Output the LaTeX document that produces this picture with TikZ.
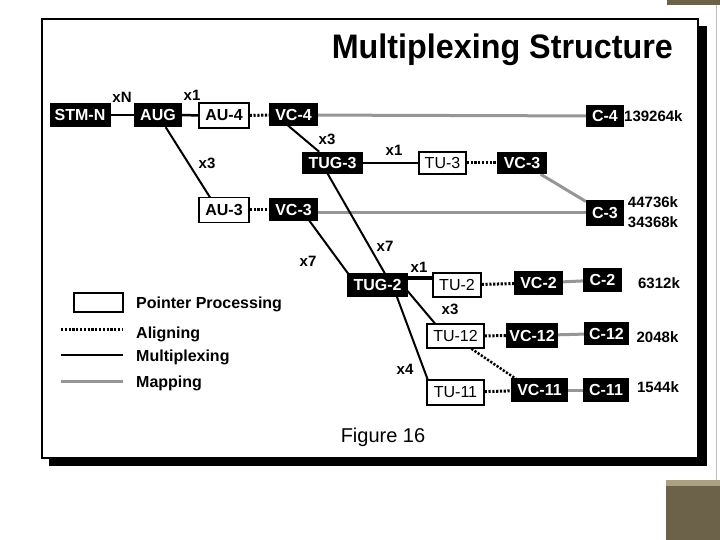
\documentclass[tikz,border=0pt]{standalone}
\usepackage{fontspec}
\setmainfont{Liberation Sans}
\newfontfamily\titlefont[FakeStretch=0.95]{Liberation Sans}
\usetikzlibrary{backgrounds}
\usepackage{xcolor}
\definecolor{mapgray}{RGB}{150,150,150}
\definecolor{olivedark}{RGB}{108,98,74}
\definecolor{olivelight}{RGB}{168,162,130}

\newcommand\boxfont{\bfseries\fontsize{16}{18}\selectfont}
\newcommand\lblfont{\bfseries\fontsize{15}{17}\selectfont}

\tikzset{
  blkbox/.style={fill=black, text=white, font=\boxfont, inner sep=0pt, minimum height=24pt},
  ptrbox/.style={draw=black, fill=white, line width=1.4pt, font=\boxfont, inner sep=0pt, minimum height=24pt},
  tubox/.style={ptrbox, font=\fontsize{16}{18}\selectfont},
  mult/.style={black, line width=2pt},
  aligning/.style={black, line width=3pt, dash pattern=on 2.2pt off 1.6pt},
  mapg/.style={mapgray, line width=3pt},
  lbl/.style={font=\lblfont, inner sep=0pt},
  rate/.style={font=\lblfont, inner sep=0pt},
  legtxt/.style={font=\bfseries\fontsize{16}{18}\selectfont, inner sep=0pt, anchor=west}
}

\begin{document}
\begin{tikzpicture}[x=1pt,y=-1pt]
    \useasboundingbox (0,0) rectangle (720,540);

    % --- Decor et cadre ---
    \begin{scope}[on background layer]
        \fill[olivedark] (667,0) rectangle (720,5);
        \fill[olivelight] (666,480) rectangle (720,486);
        \fill[olivedark] (666,486) rectangle (720,540);
        \draw[black!25, line width=0.8pt] (716.5,5) -- (716.5,480);
        \fill[black] (49,26) rectangle (707,466);
        \draw[fill=white, line width=2pt] (42,19) rectangle (698,458);
    \end{scope}

    \node[anchor=east, inner sep=0pt, font=\titlefont\bfseries\fontsize{34}{36}\selectfont] (titre) at (673,50) {Multiplexing Structure};

    % --- Ligne du haut ---
    \node[blkbox, minimum width=61pt] (stmn) at (80,115) {STM-N};
    \node[blkbox, minimum width=48pt] (aug) at (158,115) {AUG};
    \node[ptrbox, minimum width=50pt, minimum height=25pt] (au4) at (224,115.5) {AU-4};
    \node[blkbox, minimum width=49pt, minimum height=23pt] (vc4) at (293.5,115) {VC-4};
    \node[blkbox, minimum width=38pt, minimum height=22pt] (c4) at (605,116) {C-4};

    % --- TUG-3 ---
    \node[blkbox, minimum width=61pt, minimum height=22pt] (tug3) at (332.5,163) {TUG-3};
    \node[tubox, minimum width=47pt, minimum height=22pt] (tu3) at (442.5,163) {TU-3};
    \node[blkbox, minimum width=50pt, minimum height=22pt] (vc3a) at (522,163) {VC-3};
    \node[blkbox, minimum width=38pt, minimum height=26pt] (c3) at (605,213) {C-3};

    % --- AU-3 ---
    \node[ptrbox, minimum width=50pt, minimum height=25pt] (au3) at (224,210) {AU-3};
    \node[blkbox, minimum width=49pt, minimum height=23pt] (vc3b) at (293.5,210) {VC-3};

    % --- TUG-2 et affluents ---
    \node[blkbox, minimum width=61pt] (tug2) at (377.5,285) {TUG-2};
    \node[tubox, minimum width=48pt] (tu2) at (457,285) {TU-2};
    \node[blkbox, minimum width=49pt] (vc2) at (538.5,283) {VC-2};
    \node[blkbox, minimum width=39pt] (c2) at (602.5,280) {C-2};
    \node[tubox, minimum width=57pt] (tu12) at (455.5,336) {TU-12};
    \node[blkbox, minimum width=52pt, minimum height=25pt] (vc12) at (532,335.5) {VC-12};
    \node[blkbox, minimum width=45pt, minimum height=23pt] (c12) at (606.5,333.5) {C-12};
    \node[tubox, minimum width=57pt, minimum height=25pt] (tu11) at (455.5,392.5) {TU-11};
    \node[blkbox, minimum width=57pt] (vc11) at (539.5,390) {VC-11};
    \node[blkbox, minimum width=46pt] (c11) at (606,390) {C-11};

    % --- Facteurs ---
    \node[lbl] (fxn) at (122,97) {xN};
    \node[lbl] (fx1a) at (192,95) {x1};
    \node[lbl] (fx3a) at (207,163) {x3};
    \node[lbl] (fx3b) at (327,139) {x3};
    \node[lbl] (fx1b) at (394,150) {x1};
    \node[lbl] (fx7a) at (385,246) {x7};
    \node[lbl] (fx7b) at (308,261) {x7};
    \node[lbl] (fx1c) at (419,267) {x1};
    \node[lbl] (fx3c) at (450,309) {x3};
    \node[lbl] (fx4) at (405,369) {x4};

    % --- Debits ---
    \node[rate, anchor=west] (r4) at (624,116) {139264k};
    \node[rate] (r3a) at (653,202) {44736k};
    \node[rate] (r3b) at (653,222) {34368k};
    \node[rate] (r2) at (659,283) {6312k};
    \node[rate] (r12) at (657.5,337) {2048k};
    \node[rate] (r11) at (658,387) {1544k};

    % --- Legende ---
    \node[draw=black, fill=white, line width=1.4pt, minimum width=49pt, minimum height=19pt, inner sep=0pt] (legptr) at (98.5,302.5) {};
    \node[legtxt] (legptrtxt) at (136,304) {Pointer Processing};
    \coordinate (lega1) at (61,329);  \coordinate (lega2) at (123,329);
    \coordinate (legm1) at (61,355);  \coordinate (legm2) at (123,355);
    \coordinate (legp1) at (61,381);  \coordinate (legp2) at (123,381);
    \node[legtxt] (legatxt) at (136,334) {Aligning};
    \node[legtxt] (legmtxt) at (136,357) {Multiplexing};
    \node[legtxt] (legptxt) at (136,383) {Mapping};

    \node[font=\fontsize{20}{22}\selectfont, inner sep=0pt] (fig) at (383,437) {Figure 16};

    % --- Liaisons ---
    \begin{scope}[on background layer]
        \draw[mult, line width=2.5pt] (stmn) -- (aug);
        \draw[mult, line width=2.5pt] (aug) -- (au4);
        \draw[aligning] (au4) -- (vc4);
        \draw[mapg] (vc4) -- (c4);
        \draw[mult] ([xshift=-18pt]vc4.center) -- (tug3);
        \draw[mult, line width=2.5pt] (tug3) -- (tu3);
        \draw[aligning] (tu3) -- (vc3a);
        \draw[mapg] (vc3a) -- (c3);
        \draw[mult] (aug) -- ([xshift=-6pt]au3.center);
        \draw[aligning] (au3) -- (vc3b);
        \draw[mapg] (vc3b.center |- c3.center) -- (c3);
        \draw[mult] ([xshift=-11pt]tug3.center) -- ([xshift=14pt]tug2.center);
        \draw[mult] ([xshift=8pt]vc3b.center) -- ([xshift=-21pt]tug2.center);
        \draw[mult, line width=3.5pt] ([yshift=7pt]tug2.center) -- ([yshift=7pt]tu2.center);
        \draw[aligning] (tu2) -- (vc2);
        \draw[mapg] (vc2) -- (c2);
        \draw[mult] ([xshift=25pt]tug2.center) -- ([xshift=-10pt]tu12.center);
        \draw[mult] ([xshift=15pt]tug2.center) -- ([xshift=-23pt]tu11.center);
        \draw[aligning] (tu12) -- (vc12);
        \draw[mapg] (vc12) -- (c12);
        \draw[aligning, line width=2.5pt] ([xshift=-3pt]tu12.center) -- ([xshift=-7pt]vc11.center);
        \draw[aligning] (tu11) -- (vc11);
        \draw[mapg] (vc11) -- (c11);
        % legende
        \draw[aligning] (lega1) -- (lega2);
        \draw[mult] (legm1) -- (legm2);
        \draw[mapg] (legp1) -- (legp2);
    \end{scope}
\end{tikzpicture}
\end{document}
